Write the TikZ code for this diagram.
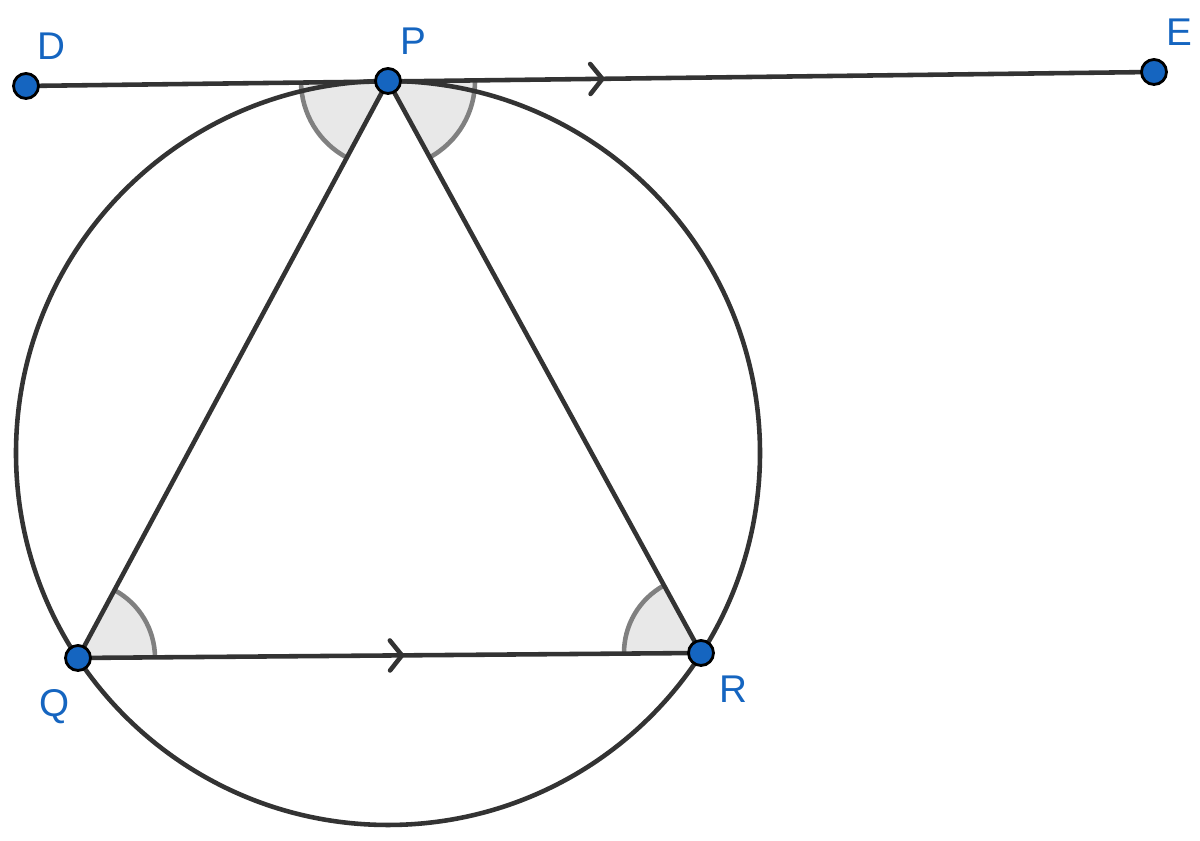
\documentclass[tikz,border=0pt]{standalone}
\usepackage{fontspec}
\setmainfont{Liberation Sans}
\usepackage{xcolor}
\usetikzlibrary{angles,decorations.markings}

\definecolor{linegray}{HTML}{333333}
\definecolor{ptblue}{HTML}{1565C0}
\tikzset{
    seg/.style={draw=linegray, line width=1.3pt},
    dot/.style={circle, fill=ptblue, draw=black, line width=0.8pt, minimum size=0.25cm, inner sep=0pt},
    lbl/.style={text=ptblue, font=\fontsize{11}{13}\selectfont, inner sep=0pt},
    sector/.style={draw=gray, fill=gray!18, line width=1.3pt},
    chevron/.style={postaction={decorate, decoration={markings,
        mark=at position #1 with {\draw[draw=linegray, line width=1.3pt, line cap=round]
            (-0.12,0.15) -- (0,0) -- (-0.12,-0.15);}}}}
}

\begin{document}
\begin{tikzpicture}
    \useasboundingbox (0,0) rectangle (12,8.41);
    % Points
    \coordinate (D) at (0.26,7.55);
    \coordinate (P) at (3.88,7.60);
    \coordinate (E) at (11.54,7.69);
    \coordinate (Q) at (0.78,1.83);
    \coordinate (R) at (7.01,1.88);
    \coordinate (O) at (3.88,3.88);
    % Angle sectors
    \pic[sector, angle radius=0.87cm] {angle = D--P--Q};
    \pic[sector, angle radius=0.87cm] {angle = R--P--E};
    \pic[sector, angle radius=0.77cm] {angle = R--Q--P};
    \pic[sector, angle radius=0.77cm] {angle = P--R--Q};
    % Circle through P, Q and R
    \draw[seg] (O) circle (3.72);
    % Tangent line and triangle
    \draw[seg, chevron=0.511] (D) -- (E);
    \draw[seg, chevron=0.52] (Q) -- (R);
    \draw[seg] (Q) -- (P) -- (R);
    % Dots and labels
    \foreach \pt/\lx/\ly in {D/0.51/7.95, P/4.13/8.00, E/11.79/8.09, Q/0.55/1.34, R/7.33/1.52} {
        \node[dot] (dot\pt) at (\pt) {};
        \node[lbl] (lbl\pt) at (\lx,\ly) {\pt};
    }
\end{tikzpicture}
\end{document}
